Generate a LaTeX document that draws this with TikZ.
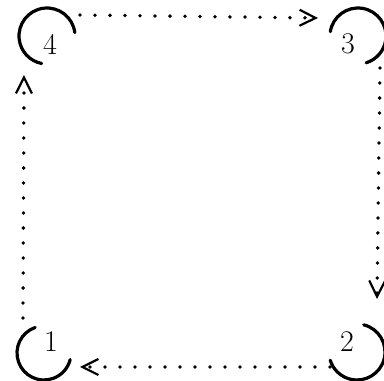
\documentclass[tikz,border=0pt]{standalone}
\usepackage{tikz}
\usetikzlibrary{calc,arrows.meta}

\begin{document}
\begin{tikzpicture}[
  x=1pt, y=1pt,
  numeral/.style={font=\fontsize{30}{32}\selectfont, inner sep=0pt},
  ring/.style={line width=3.2pt, line cap=round},
  link/.style={line width=3.8pt, line cap=round, dash pattern=on 0pt off 15pt,
    -{Straight Barb[length=16pt, width=16pt, line width=2.2pt]}},
]
\useasboundingbox (0,0) rectangle (384,381);

% states
\node[numeral] (n4) at (50,337) {4};
\node[numeral] (n3) at (348,337) {3};
\node[numeral] (n1) at (51,39) {1};
\node[numeral] (n2) at (347,39) {2};

% open rings round the states
\draw[ring] ($(n4)+(-3,8)+(7:28)$) arc[start angle=7, end angle=259, radius=28];
\draw[ring] ($(n3)+(10,8)+(171:28)$) arc[start angle=171, end angle=-73, radius=28];
\draw[ring] ($(n1)+(-7,-11)+(109:27)$) arc[start angle=109, end angle=346, radius=27];
\draw[ring] ($(n2)+(10,-10)+(76:28)$) arc[start angle=76, end angle=-163, radius=28];

% cycle 1 -> 4 -> 3 -> 2 -> 1
\draw[link] ($(n1)+(-28,24)$) -- ($(n4)+(-26,-31)$);
\draw[link] ($(n4)+(30,29)$) -- ($(n3)+(-30,26)$);
\draw[link] ($(n3)+(32,-24)$) -- ($(n2)+(30,43)$);
\draw[link] ($(n2)+(-17,-25)$) -- ($(n1)+(29,-25)$);
\end{tikzpicture}
\end{document}
